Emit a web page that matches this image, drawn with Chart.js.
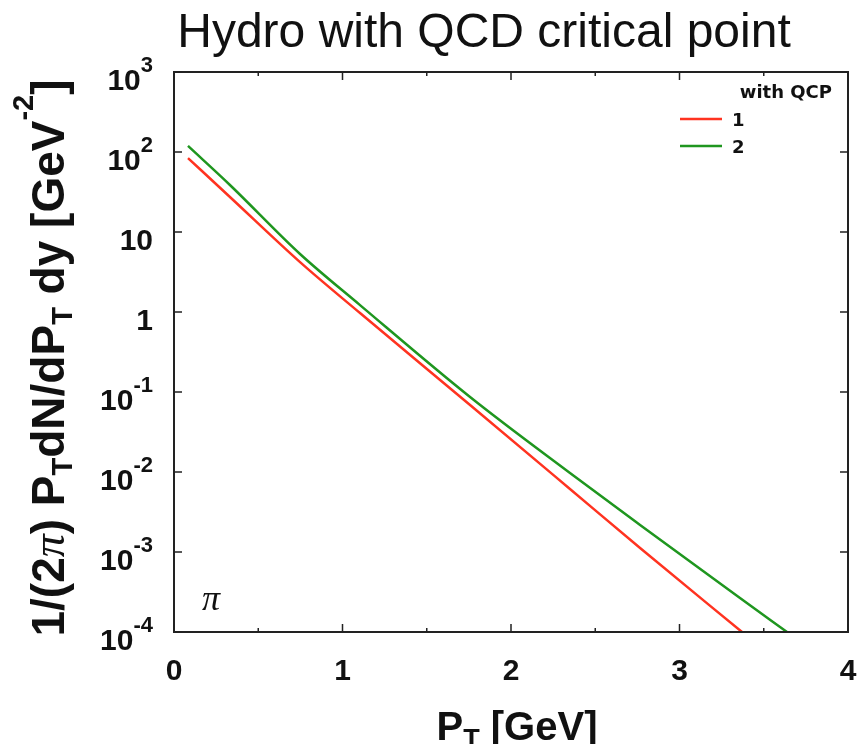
<!DOCTYPE html>
<html>
<head>
<meta charset="utf-8">
<title>Hydro with QCD critical point</title>
<script src="https://cdn.jsdelivr.net/npm/chart.js@4.4.0/dist/chart.umd.min.js"></script>
<style>
    body { margin: 0; background: #fff; }
    canvas { display: block; }
</style>
</head>
<body>
<canvas id="spectrumChart" width="860" height="744"></canvas>
<script>
// pion pT spectra
const ptQcp1 = [0.083, 0.332, 0.748, 1.104, 1.757, 2.35, 2.766, 3.371];
const yieldQcp1 = [84, 27.4, 4.2, 0.97, 0.0688, 0.00613, 0.00112, 1.0e-4];
const ptQcp2 = [0.083, 0.332, 0.748, 1.104, 1.757, 2.35, 2.766, 3.359, 3.638];
const yieldQcp2 = [119, 38.7, 5.31, 1.22, 0.0866, 0.00971, 0.00218, 2.66e-4, 1.0e-4];

const seriesLabels = ['1', '2'];
const legendTitle = 'with QCP';

// axis ticks
const xTicks = [0, 1, 2, 3, 4];
const xTickLabels = ['0', '1', '2', '3', '4'];
const xMinorTicks = [0.5, 1.5, 2.5, 3.5];
const yTicks = [1e3, 1e2, 1e1, 1, 1e-1, 1e-2, 1e-3, 1e-4];
const yTickBase = ['10', '10', '10', '1', '10', '10', '10', '10'];
const yTickExp = ['3', '2', '', '', '-1', '-2', '-3', '-4'];

const RED = '#ff3320';
const GREEN = '#1f961f';
const SANS = '"Liberation Sans", Arial, Helvetica, sans-serif';

const toPoints = (xs, ys) => xs.map((x, i) => ({ x: x, y: ys[i] }));

// draw pieces of text one after the other: [text, font, baseline offset]
const drawRuns = (ctx, runs, x, y) => {
    let pos = x;
    runs.forEach(([text, font, dy]) => {
        ctx.font = font;
        ctx.fillText(text, pos, y + dy);
        pos += ctx.measureText(text).width;
    });
    return pos - x;
};

const measureRuns = (ctx, runs) => {
    let w = 0;
    runs.forEach(([text, font]) => {
        ctx.font = font;
        w += ctx.measureText(text).width;
    });
    return w;
};

const framePlugin = {
    id: 'frame',
    afterDraw(chart) {
        const { ctx, chartArea: a, scales } = chart;
        const xs = scales.x;
        const ys = scales.y;
        ctx.save();
        ctx.fillStyle = '#111';
        ctx.strokeStyle = '#222';

        // box
        ctx.lineWidth = 2;
        ctx.strokeRect(a.left, a.top, a.right - a.left, a.bottom - a.top);

        // inward ticks on all four sides
        ctx.lineWidth = 1.5;
        ctx.beginPath();
        xTicks.forEach(v => {
            const px = xs.getPixelForValue(v);
            ctx.moveTo(px, a.bottom); ctx.lineTo(px, a.bottom - 8);
            ctx.moveTo(px, a.top); ctx.lineTo(px, a.top + 8);
        });
        xMinorTicks.forEach(v => {
            const px = xs.getPixelForValue(v);
            ctx.moveTo(px, a.bottom); ctx.lineTo(px, a.bottom - 4);
            ctx.moveTo(px, a.top); ctx.lineTo(px, a.top + 4);
        });
        yTicks.forEach(v => {
            const py = ys.getPixelForValue(v);
            ctx.moveTo(a.left, py); ctx.lineTo(a.left + 8, py);
            ctx.moveTo(a.right, py); ctx.lineTo(a.right - 8, py);
        });
        ctx.stroke();

        // x tick labels
        ctx.font = 'bold 30px ' + SANS;
        ctx.textAlign = 'center';
        ctx.textBaseline = 'alphabetic';
        xTicks.forEach((v, i) => {
            ctx.fillText(xTickLabels[i], xs.getPixelForValue(v), 680);
        });

        // y tick labels with exponents
        ctx.textAlign = 'left';
        const labelRight = a.left - 21;
        yTicks.forEach((v, i) => {
            const py = ys.getPixelForValue(v);
            const runs = [[yTickBase[i], 'bold 30px ' + SANS, 18]];
            if (yTickExp[i]) runs.push([yTickExp[i], 'bold 22px ' + SANS, 0]);
            const w = measureRuns(ctx, runs);
            drawRuns(ctx, runs, labelRight - w, py);
        });

        // x axis title
        const xTitle = [
            ['P', 'bold 40px ' + SANS, 0],
            ['T', 'bold 27px ' + SANS, 8],
            [' [GeV]', 'bold 40px ' + SANS, 0]
        ];
        const xw = measureRuns(ctx, xTitle);
        drawRuns(ctx, xTitle, 517 - xw / 2, 740);

        // y axis title, rotated
        const yTitle = [
            ['1/(2', 'bold 46px ' + SANS, 0],
            ['\u03c0', 'italic 46px "Liberation Serif", "Times New Roman", serif', 0],
            [') P', 'bold 46px ' + SANS, 0],
            ['T', 'bold 29px ' + SANS, 8],
            ['dN/dP', 'bold 46px ' + SANS, 0],
            ['T', 'bold 29px ' + SANS, 8],
            [' dy [GeV', 'bold 46px ' + SANS, 0],
            ['-2', 'bold 29px ' + SANS, -31],
            [']', 'bold 46px ' + SANS, 0]
        ];
        const yw = measureRuns(ctx, yTitle);
        ctx.save();
        ctx.translate(64, 358);
        ctx.rotate(-Math.PI / 2);
        drawRuns(ctx, yTitle, -yw / 2, 0);
        ctx.restore();

        // chart title
        ctx.textAlign = 'center';
        ctx.font = '48px ' + SANS;
        ctx.fillText('Hydro with QCD critical point', 484, 47);

        // particle label
        ctx.font = 'italic 36px "Liberation Serif", "Times New Roman", serif';
        ctx.fillText('\u03c0', 211, 610);

        // legend
        const legendFont = 'bold 18px "DejaVu Sans", ' + SANS;
        ctx.textAlign = 'right';
        ctx.font = legendFont;
        ctx.fillText(legendTitle, 832, 98);
        ctx.textAlign = 'left';
        chart.data.datasets.forEach((ds, i) => {
            const ly = 119 + i * 27;
            ctx.strokeStyle = ds.borderColor;
            ctx.lineWidth = 2.5;
            ctx.beginPath();
            ctx.moveTo(680, ly);
            ctx.lineTo(722, ly);
            ctx.stroke();
            ctx.fillStyle = '#111';
            ctx.font = legendFont;
            ctx.fillText(seriesLabels[i], 732, ly + 7);
        });

        ctx.restore();
    }
};

const ctx = document.getElementById('spectrumChart').getContext('2d');

new Chart(ctx, {
    type: 'line',
    data: {
        datasets: [
            {
                label: seriesLabels[0],
                data: toPoints(ptQcp1, yieldQcp1),
                borderColor: RED,
                borderWidth: 2.5,
                pointRadius: 0,
                cubicInterpolationMode: 'monotone',
                fill: false
            },
            {
                label: seriesLabels[1],
                data: toPoints(ptQcp2, yieldQcp2),
                borderColor: GREEN,
                borderWidth: 2.5,
                pointRadius: 0,
                cubicInterpolationMode: 'monotone',
                fill: false
            }
        ]
    },
    options: {
        responsive: false,
        animation: false,
        layout: {
            padding: { left: 174, right: 12, top: 72, bottom: 112 }
        },
        plugins: {
            legend: { display: false },
            title: { display: false },
            tooltip: { enabled: false }
        },
        scales: {
            x: { type: 'linear', min: 0, max: 4, display: false },
            y: { type: 'logarithmic', min: 1e-4, max: 1e3, display: false }
        }
    },
    plugins: [framePlugin]
});
</script>
</body>
</html>
